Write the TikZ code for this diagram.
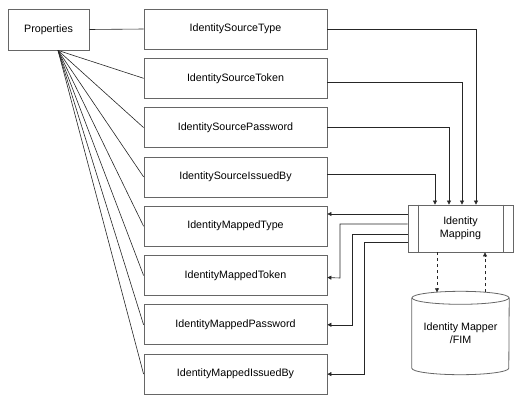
\documentclass[tikz,border=0pt]{standalone}
\usepackage{fontspec}
\setmainfont{Liberation Sans}
\usetikzlibrary{positioning}
\usetikzlibrary{arrows.meta}

\begin{document}
\begin{tikzpicture}[x=1pt, y=-1pt, font=\fontsize{10.7}{13}\selectfont,
    box/.style={draw=black!60, line width=0.8pt, minimum width=183pt,
      minimum height=40pt, inner sep=0pt},
    link/.style={draw=black!85, line width=0.6pt},
    arr/.style={link, -{Triangle[length=4pt,width=4pt]}},
    dasharr/.style={arr, dashed}]
	    \useasboundingbox (0,0) rectangle (525,405);

	    % boxes
	    \node[box, minimum width=81pt, minimum height=41pt] (prop) at (48.5,29.5) {Properties};
	    \foreach \name/\txt [count=\i from 0] in {stype/IdentitySourceType,
	      stoken/IdentitySourceToken, spwd/IdentitySourcePassword,
	      sissuer/IdentitySourceIssuedBy, mtype/IdentityMappedType,
	      mtoken/IdentityMappedToken, mpwd/IdentityMappedPassword,
	      missuer/IdentityMappedIssuedBy}
	      \node[box] (\name) at (235.5, {29+49.3*\i}) {\txt};

	    \node[box, minimum width=105pt, minimum height=47pt, align=center] (idm)
	    at (460.5,228.5) {Identity\\Mapping};
	    \draw[draw=black!60, line width=0.8pt] ([xshift=11pt]idm.north west) -- ([xshift=11pt]idm.south west);
	    \draw[draw=black!60, line width=0.8pt] ([xshift=-10pt]idm.north east) -- ([xshift=-10pt]idm.south east);

	    % cylinder
	    \node[minimum width=97pt, minimum height=83pt, align=center] (fim)
	    at (460.5,333) {Identity Mapper\\/FIM};
	    \draw[draw=black!60, line width=0.8pt] ([yshift=-6.5pt]fim.north west) -- ([yshift=6.5pt]fim.south west)
	    arc[start angle=180, end angle=360, x radius=48.5pt, y radius=6.5pt] -- ([yshift=-6.5pt]fim.north east);
	    \draw[draw=black!60, line width=0.8pt] ([yshift=-6.5pt]fim.north) ellipse [x radius=48.5pt, y radius=6.5pt];

	    % lines from properties
	    \draw[link] (prop.east) -- (stype.west);
	    \coordinate (fan) at ([xshift=9.5pt]prop.south);
	    \foreach \name in {stoken,spwd,sissuer,mtype,mtoken,mpwd,missuer}
	      \draw[link] (fan) -- (\name.west);

	    % source values into the mapping
	    \draw[arr] (stype.east) -| ([xshift=15.5pt]idm.north);
	    \draw[arr] ([yshift=-4pt]stoken.east) -| ([xshift=1.5pt]idm.north);
	    \draw[arr] (spwd.east) -| ([xshift=-11.5pt]idm.north);
	    \draw[arr] ([yshift=3pt]sissuer.east) -| ([xshift=-25.5pt]idm.north);

	    % mapped values out of the mapping
	    \draw[arr] ([yshift=14.5pt]idm.west) coordinate (o1) -- (o1 -| mtype.east);
	    \draw[arr] ([yshift=4.5pt]idm.west) -| (340,278) -- ([yshift=-2pt]mtoken.east);
	    \draw[arr] ([yshift=-5.5pt]idm.west) -| (352,0 |- mpwd.east) -- (mpwd.east);
	    \draw[arr] ([yshift=-13.5pt]idm.west) -| (364,0 |- missuer.east) -- (missuer.east);

	    % mapper lookup
	    \draw[dasharr] ([xshift=-23.5pt]idm.south) -- ([xshift=-23.5pt,yshift=-1pt]fim.north);
	    \draw[dasharr] ([xshift=24.5pt,yshift=-1pt]fim.north) -- ([xshift=24.5pt]idm.south);
	  \end{tikzpicture}
\end{document}
